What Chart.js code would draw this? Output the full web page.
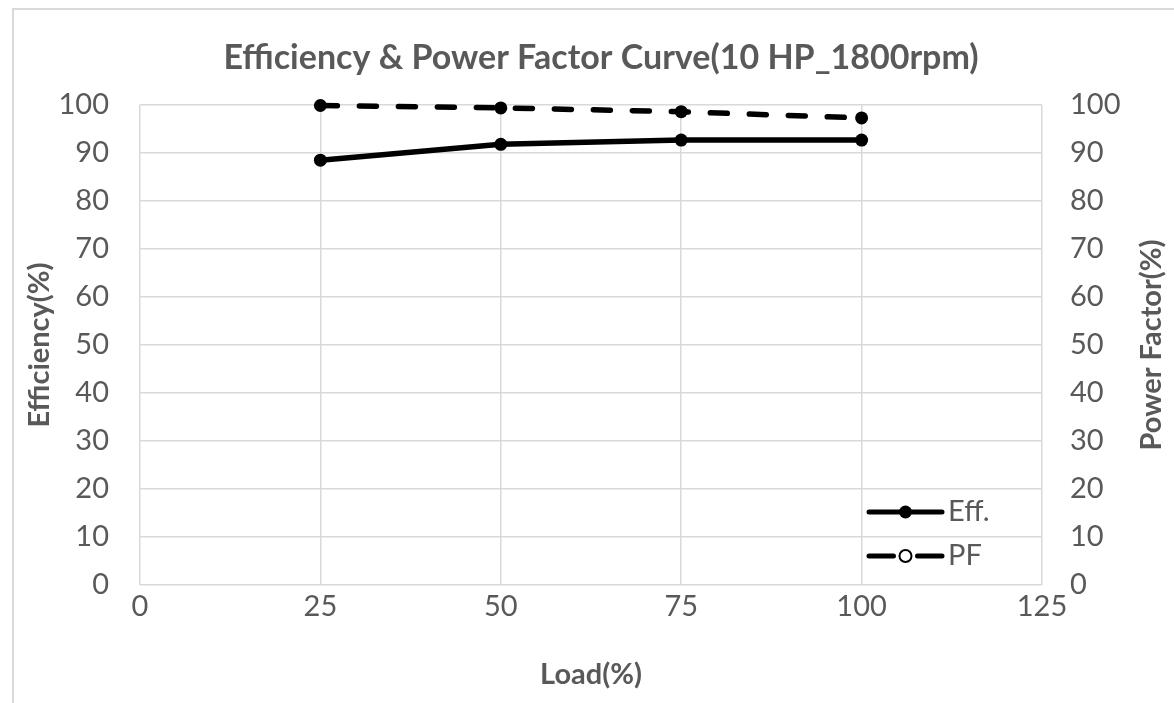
<!DOCTYPE html>
<html lang="en">
<head>
    <meta charset="UTF-8">
    <title>Efficiency & Power Factor Curve</title>
    <script src="https://cdn.jsdelivr.net/npm/chart.js@4.4.0/dist/chart.umd.min.js"></script>
    <style>
        html, body { margin: 0; padding: 0; background: #fff; overflow: hidden; }
        .frame { position: absolute; left: 12px; top: 8px; width: 1300px; height: 800px; border: 2px solid #d9d9d9; }
        .wrapper { position: absolute; left: 0; top: 0; width: 1174px; height: 703px; }
    </style>
</head>
<body>
    <div class="frame"></div>
    <div class="wrapper">
        <canvas id="myChart"></canvas>
    </div>
    <script>
        // values
        var loads = [25, 50, 75, 100];
        var effValues = [88.5, 91.8, 92.7, 92.7];
        var pfValues = [99.9, 99.4, 98.6, 97.3];
        var xTicks = [0, 25, 50, 75, 100, 125];
        var yTicks = [0, 10, 20, 30, 40, 50, 60, 70, 80, 90, 100];

        var grey = '#595959';
        var fontName = 'Lato';

        function toPoints(ys) {
            var pts = [];
            for (var i = 0; i < loads.length; i++) {
                pts.push({x: loads[i], y: ys[i]});
            }
            return pts;
        }

        function setTicks(list) {
            return function(scale) {
                scale.ticks = list.map(function(v) { return {value: v}; });
            };
        }

        // title, legend inside the plot and right axis title
        var extras = {
            id: 'extras',
            afterDraw: function(chart) {
                var ctx = chart.ctx, a = chart.chartArea;
                var x0 = a.right - 173, x1 = a.right - 100, mx = (x0 + x1) / 2;
                var y1 = a.bottom - 73, y2 = a.bottom - 29;
                ctx.save();

                // chart title is centred on the frame, not the canvas
                ctx.fillStyle = grey;
                ctx.font = 'bold 34px ' + fontName;
                ctx.textAlign = 'center';
                ctx.textBaseline = 'middle';
                ctx.fillText('Efficiency & Power Factor Curve(10 HP_1800rpm)', 601, 58);

                ctx.strokeStyle = '#000';
                ctx.lineWidth = 5;
                ctx.lineCap = 'round';
                ctx.beginPath();
                ctx.moveTo(x0, y1); ctx.lineTo(x1, y1);
                ctx.stroke();
                ctx.fillStyle = '#000';
                ctx.beginPath();
                ctx.arc(mx, y1, 6.5, 0, Math.PI * 2);
                ctx.fill();

                ctx.beginPath();
                ctx.moveTo(x0, y2); ctx.lineTo(mx - 12, y2);
                ctx.moveTo(mx + 12, y2); ctx.lineTo(x1, y2);
                ctx.stroke();
                ctx.lineWidth = 2;
                ctx.fillStyle = '#fff';
                ctx.beginPath();
                ctx.arc(mx, y2, 6, 0, Math.PI * 2);
                ctx.fill();
                ctx.stroke();

                ctx.fillStyle = grey;
                ctx.font = '29px ' + fontName;
                ctx.textAlign = 'left';
                ctx.fillText('Eff.', x1 + 6, y1);
                ctx.fillText('PF', x1 + 6, y2);

                // right axis title, reading bottom to top
                ctx.font = 'bold 29px ' + fontName;
                ctx.textAlign = 'center';
                ctx.translate(chart.width - 22, (a.top + a.bottom) / 2);
                ctx.rotate(-Math.PI / 2);
                ctx.fillText('Power Factor(%)', 0, 0);
                ctx.restore();
            }
        };

        var chart = new Chart(document.getElementById('myChart'), {
            type: 'line',
            data: {
                datasets: [
                    {
                        label: 'Eff.',
                        data: toPoints(effValues),
                        yAxisID: 'y',
                        borderColor: '#000',
                        borderWidth: 5.5,
                        pointRadius: 6.5,
                        pointBackgroundColor: '#000',
                        pointBorderColor: '#000',
                        pointBorderWidth: 0,
                        tension: 0,
                        clip: false
                    },
                    {
                        label: 'PF',
                        data: toPoints(pfValues),
                        yAxisID: 'y2',
                        borderColor: '#000',
                        borderWidth: 5.5,
                        borderDash: [17, 22],
                        borderCapStyle: 'round',
                        pointRadius: 6.5,
                        pointBackgroundColor: '#000',
                        pointBorderColor: '#000',
                        pointBorderWidth: 0,
                        tension: 0,
                        clip: false
                    }
                ]
            },
            options: {
                responsive: true,
                maintainAspectRatio: false,
                animation: false,
                layout: {padding: {top: 105}},
                plugins: {
                    legend: {display: false},
                    tooltip: {enabled: false},
                    title: {display: false}
                },
                scales: {
                    x: {
                        type: 'linear',
                        min: 0,
                        max: 125,
                        afterBuildTicks: setTicks(xTicks),
                        afterFit: function(s) { s.height = 118; },
                        grid: {color: '#d9d9d9', lineWidth: 1.5, drawTicks: false},
                        border: {display: false},
                        ticks: {color: grey, font: {family: fontName, size: 29}, padding: 4},
                        title: {
                            display: true,
                            text: 'Load(%)',
                            color: grey,
                            font: {family: fontName, size: 29, weight: 'bold'},
                            padding: {top: 0, bottom: 10.6}
                        }
                    },
                    y: {
                        position: 'left',
                        min: 0,
                        max: 100,
                        afterBuildTicks: setTicks(yTicks),
                        afterFit: function(s) { s.width = 140; },
                        grid: {color: '#d9d9d9', lineWidth: 1.5, drawTicks: false},
                        border: {display: false},
                        ticks: {color: grey, font: {family: fontName, size: 29}, padding: 31},
                        title: {
                            display: true,
                            text: 'Efficiency(%)',
                            color: grey,
                            font: {family: fontName, size: 29, weight: 'bold'},
                            padding: {top: 22.6, bottom: 0}
                        }
                    },
                    y2: {
                        position: 'right',
                        min: 0,
                        max: 100,
                        afterBuildTicks: setTicks(yTicks),
                        afterFit: function(s) { s.width = 132; },
                        grid: {display: false, drawTicks: false},
                        border: {display: false},
                        ticks: {color: grey, font: {family: fontName, size: 29}, padding: 28}
                    }
                }
            },
            plugins: [extras]
        });
    </script>
</body>
</html>
